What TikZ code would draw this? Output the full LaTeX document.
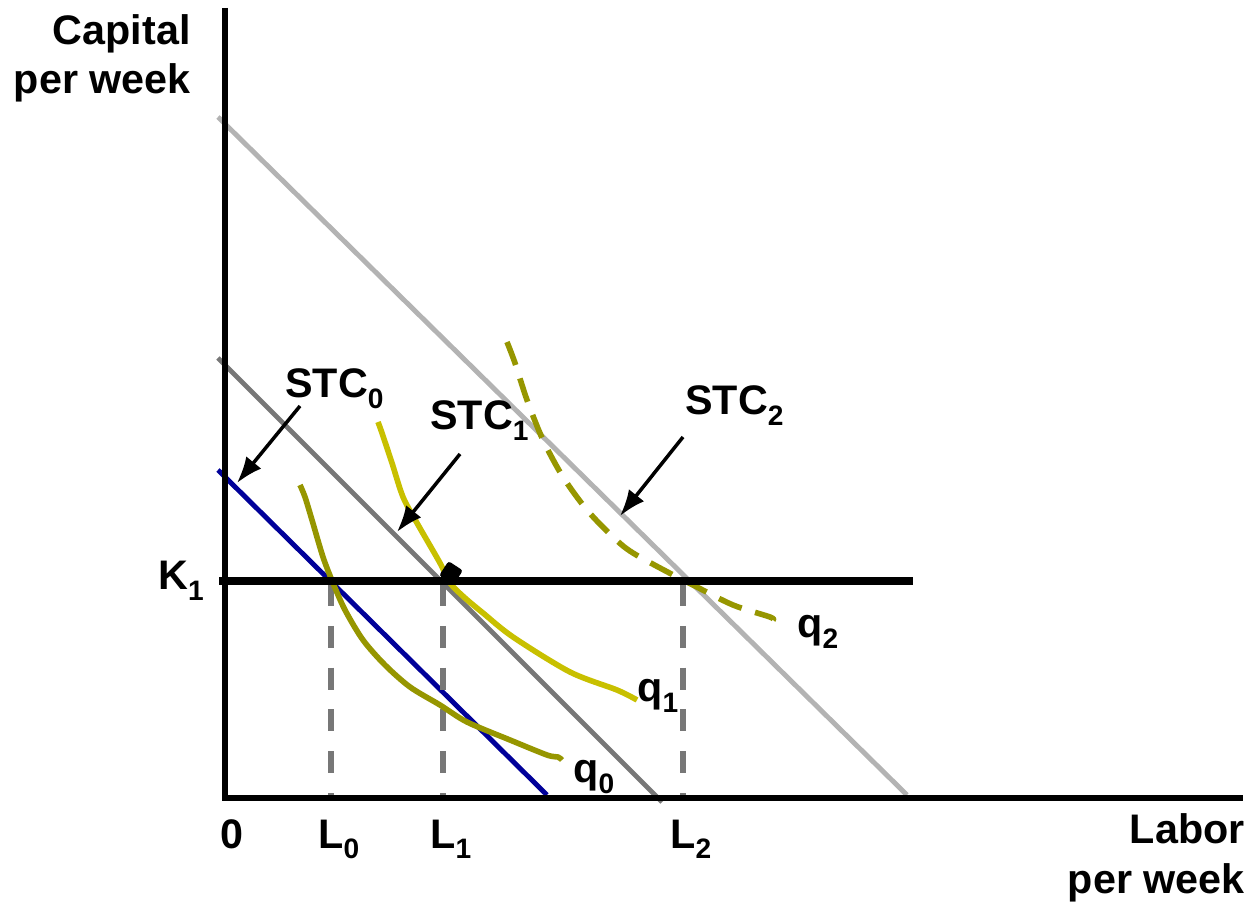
\documentclass[tikz,border=0pt]{standalone}
\usepackage{fontspec}
\setmainfont{Liberation Sans}
\usepackage{xcolor}
\usepackage{tikz}
\usetikzlibrary{arrows.meta, shapes.geometric}
\definecolor{ink}{HTML}{000000}
\definecolor{stcblue}{HTML}{000099}
\definecolor{stcmid}{HTML}{777777}
\definecolor{stcpale}{HTML}{B3B3B3}
\definecolor{isodark}{HTML}{969600}
\definecolor{isolight}{HTML}{C8C000}
\newcommand{\lowsub}[1]{\raisebox{-6pt}{\fontsize{16}{16}\selectfont #1}}

\begin{document}
\begin{tikzpicture}[
  x=0.02cm, y=-0.02cm,
  lbl/.style={font=\bfseries\fontsize{23.5}{28}\selectfont, inner sep=0pt, anchor=base west},
  axis/.style={draw=ink, line width=3.8pt},
  budget/.style={line width=2.8pt},
  isoq/.style={line width=3.2pt, line join=round, line cap=butt},
  guide/.style={draw=stcmid, line width=3.4pt, dash pattern=on 12.5pt off 11.3pt},
  pointer/.style={-{Latex[length=15pt, width=11pt]}, line width=2pt},
  dot/.style={diamond, fill=ink, inner sep=0pt, minimum size=14pt, rounded corners=1.5pt, rotate=12}
]
\useasboundingbox (0,0) rectangle (1255,908);

\draw[budget, stcpale] (218,117) -- (907,795);
\draw[budget, stcmid]  (218,358) -- (662,802);
\draw[budget, stcblue] (218,470) -- (547,795);

\draw[guide] (331,584) -- (331,798);
\draw[guide] (443,584) -- (443,798);
\draw[guide] (683,584) -- (683,798);

\draw[isoq, isodark] plot[smooth, tension=0.5] coordinates {(300,485) (305,497) (312,520) (323,557) (333,583) (345,610) (363,640) (385,665) (410,687) (440,705) (467,722) (510,740) (547,755) (558,757) (562,760)};
\draw[isoq, isolight] plot[smooth, tension=0.5] coordinates {(378,422) (382,433) (392,463) (403,497) (417,523) (440,563) (450,583) (465,598) (483,613) (513,637) (570,672) (617,690) (637,700)};
\draw[isoq, isodark, dash pattern=on 14pt off 8pt] plot[smooth, tension=0.5] coordinates {(507,342) (515,363) (527,400) (543,440) (563,477) (587,510) (613,537) (633,553) (677,577) (693,585) (733,605) (770,617) (773,620)};

\draw[ink, line width=5pt] (219,581) -- (913,581);
\draw[axis] (225,8) -- (225,798) -- (1243,798);

\node[dot] (opt) at (451,573) {};

\node[lbl, anchor=north east, align=right] (ylab) at (191,14) {Capital\\per week};
\node[lbl, anchor=south east, align=right] (xlab) at (1245,902) {Labor\\per week};
\node[lbl] (k1) at (158,590) {K\lowsub{1}};
\node[lbl] (orig) at (220,848) {0};
\node[lbl] (l0) at (318,848) {L\lowsub{0}};
\node[lbl] (l1) at (430,848) {L\lowsub{1}};
\node[lbl] (l2) at (670,848) {L\lowsub{2}};
\node[lbl] (q0) at (573,783) {q\lowsub{0}};
\node[lbl] (q1) at (637,702) {q\lowsub{1}};
\node[lbl] (q2) at (797,638) {q\lowsub{2}};
\node[lbl] (stc0) at (285,398) {STC\lowsub{0}};
\node[lbl] (stc1) at (430,430) {STC\lowsub{1}};
\node[lbl] (stc2) at (685,415) {STC\lowsub{2}};

\coordinate (s0) at (300,406);
\coordinate (t0) at (237,483);
\coordinate (s1) at (460,454);
\coordinate (t1) at (397,532);
\coordinate (s2) at (683,437);
\coordinate (t2) at (620,516);
\draw[pointer] (s0) -- (t0);
\draw[pointer] (s1) -- (t1);
\draw[pointer] (s2) -- (t2);
\end{tikzpicture}
\end{document}
